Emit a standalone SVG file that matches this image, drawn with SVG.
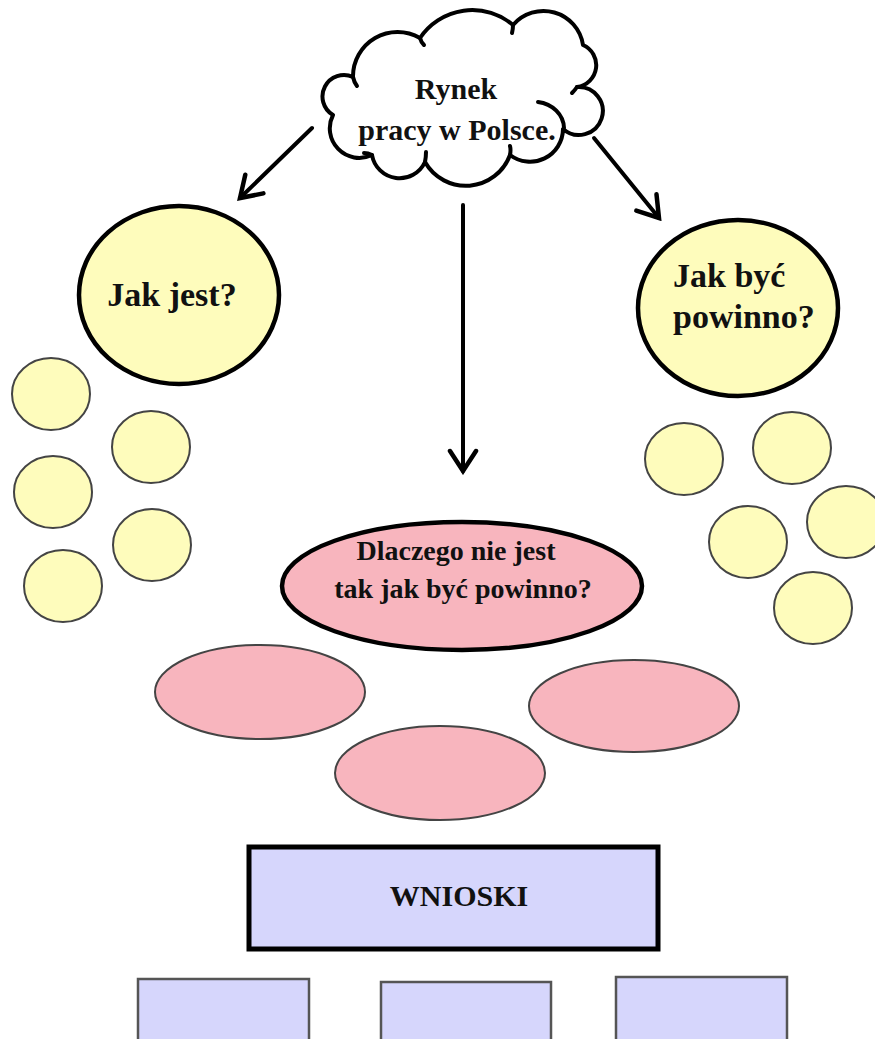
<svg xmlns="http://www.w3.org/2000/svg" width="875" height="1039" viewBox="0 0 875 1039">
<style>
.bg{fill:#ffffff}
.cloud{fill:#ffffff;stroke:#000;stroke-width:4;stroke-linejoin:round;stroke-linecap:round}
.inner{fill:none;stroke:#000;stroke-width:4;stroke-linecap:round}
.big-y{fill:#fefcbc;stroke:#000;stroke-width:4.5}
.small-y{fill:#fefcbc;stroke:#444;stroke-width:2}
.big-p{fill:#f8b5be;stroke:#000;stroke-width:4.5}
.small-p{fill:#f8b5be;stroke:#444;stroke-width:2}
.big-b{fill:#d6d6fc;stroke:#000;stroke-width:5}
.small-b{fill:#d6d6fc;stroke:#555;stroke-width:2.5}
.t{font-family:"Liberation Serif","Times New Roman",serif;font-weight:bold;fill:#111;text-anchor:middle}
.conn{stroke:#000;stroke-width:4;fill:none;stroke-linecap:round}
</style>
<defs>
<marker id="arr" markerUnits="userSpaceOnUse" markerWidth="28" markerHeight="32" viewBox="0 0 28 32" refX="24" refY="16" orient="auto">
<path d="M4,3 L24,16 L4,29" fill="none" stroke="#000" stroke-width="4.5" stroke-linecap="round" stroke-linejoin="miter"/>
</marker>
</defs>
<rect class="bg" x="0" y="0" width="875" height="1039"/>

<g id="connectors">
<line class="conn" x1="312" y1="128" x2="240" y2="198" marker-end="url(#arr)"/>
<line class="conn" x1="463" y1="205" x2="463" y2="471" marker-end="url(#arr)"/>
<line class="conn" x1="594" y1="138" x2="659" y2="218" marker-end="url(#arr)"/>
</g>

<g id="cloud-rynek">
<path class="cloud" d="M333,115 A21.5,21.5 0 0 1 353,77 A44.5,44.5 0 0 1 420,38 A63,63 0 0 1 513,25 A40,40 0 0 1 583,45 A22,22 0 0 1 577,87 A24,24 0 1 1 563,129 A33,33 0 0 1 510,155 A47,47 0 0 1 425,162 A28,28 0 0 1 372,155 A29.5,29.5 0 0 1 333,115 Z"/>
<path class="inner" d="M353,77 Q354,82 357,86"/>
<path class="inner" d="M420,38 Q421,42 424,45"/>
<path class="inner" d="M513,25 Q513,29 512,33"/>
<path class="inner" d="M577,87 Q575,90 572,93"/>
<path class="inner" d="M538,102 A30,27 0 0 1 564,128"/>
<path class="inner" d="M510,155 Q511,150 510,146"/>
<path class="inner" d="M425,162 Q426,157 426,152"/>
<path class="inner" d="M372,155 Q368,153 364,153"/>
<text class="t" x="456" y="99" font-size="30">Rynek</text>
<text class="t" x="457" y="140" font-size="30">pracy w Polsce.</text>
</g>

<g id="node-jak-jest">
<ellipse class="big-y" cx="179" cy="295" rx="100" ry="89"/>
<text class="t" x="172" y="306" font-size="34">Jak jest?</text>
</g>

<g id="node-jak-byc">
<ellipse class="big-y" cx="738" cy="308" rx="100" ry="88"/>
<text class="t" x="673" y="287" font-size="34" style="text-anchor:start">Jak być</text>
<text class="t" x="673" y="328" font-size="34" style="text-anchor:start">powinno?</text>
</g>

<g id="yellow-left">
<ellipse class="small-y" cx="51" cy="394" rx="39" ry="36"/>
<ellipse class="small-y" cx="151" cy="447" rx="39" ry="36"/>
<ellipse class="small-y" cx="53" cy="492" rx="39" ry="36"/>
<ellipse class="small-y" cx="152" cy="545" rx="39" ry="36"/>
<ellipse class="small-y" cx="63" cy="586" rx="39" ry="36"/>
</g>

<g id="yellow-right">
<ellipse class="small-y" cx="684" cy="459" rx="39" ry="36"/>
<ellipse class="small-y" cx="792" cy="448" rx="39" ry="36"/>
<ellipse class="small-y" cx="846" cy="522" rx="39" ry="36"/>
<ellipse class="small-y" cx="748" cy="542" rx="39" ry="36"/>
<ellipse class="small-y" cx="813" cy="608" rx="39" ry="36"/>
</g>

<g id="node-dlaczego">
<ellipse class="big-p" cx="462" cy="586" rx="180" ry="64"/>
<text class="t" x="456" y="560" font-size="28">Dlaczego nie jest</text>
<text class="t" x="463" y="598" font-size="28">tak jak być powinno?</text>
</g>

<g id="pink-small">
<ellipse class="small-p" cx="260" cy="692" rx="105" ry="47"/>
<ellipse class="small-p" cx="634" cy="706" rx="105" ry="46"/>
<ellipse class="small-p" cx="440" cy="773" rx="105" ry="47"/>
</g>

<g id="node-wnioski">
<rect class="big-b" x="249" y="847" width="409" height="102"/>
<text class="t" x="459" y="906" font-size="30">WNIOSKI</text>
</g>

<g id="boxes-bottom">
<rect class="small-b" x="138" y="979" width="171" height="80"/>
<rect class="small-b" x="381" y="982" width="170" height="80"/>
<rect class="small-b" x="616" y="977" width="171" height="80"/>
</g>
</svg>
